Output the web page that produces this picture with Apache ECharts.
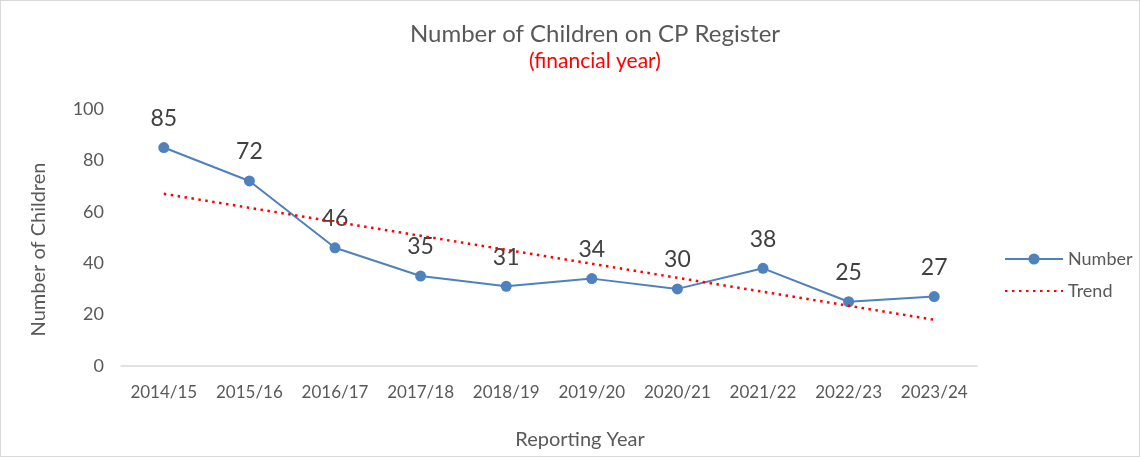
<!DOCTYPE html>
<html>
<head>
<meta charset="utf-8">
<title>CP Register</title>
<script src="https://cdn.jsdelivr.net/npm/echarts@6/dist/echarts.min.js"></script>
<style>
	body { margin: 0; }
	#main { width: 1138px; height: 455px; border: 1px solid #d9d9d9; }
</style>
<script type="text/javascript">
	// data
	var years = ['2014/15', '2015/16', '2016/17', '2017/18', '2018/19', '2019/20', '2020/21', '2021/22', '2022/23', '2023/24'];
	var numbers = [85, 72, 46, 35, 31, 34, 30, 38, 25, 27];
	// trend line: start and end values only, joined straight
	var trend = [67, null, null, null, null, null, null, null, null, 18];
	var yTicks = [0, 20, 40, 60, 80, 100];

	window.onload = function () {
		initChart();
	};

	function initChart() {
		var myChart = echarts.init(document.getElementById('main'));
		var font = 'Lato, "Noto Sans", sans-serif';
		var option = {
			textStyle: { fontFamily: font },
			title: {
				text: 'Number of Children on CP Register',
				subtext: '(financial year)',
				left: 589,
				textAlign: 'center',
				top: 16,
				itemGap: 5,
				textStyle: { fontSize: 24, fontWeight: 'normal', color: '#595959', fontFamily: font },
				subtextStyle: { fontSize: 21, color: '#ff0000', fontFamily: font }
			},
			legend: {
				orient: 'vertical',
				left: 998,
				top: 244,
				itemWidth: 58,
				itemHeight: 14,
				itemGap: 14,
				textStyle: { fontSize: 18, color: '#595959', fontFamily: font },
				data: ['Number', { name: 'Trend', itemStyle: { opacity: 0 } }]
			},
			grid: { left: 120, right: 162, top: 108, bottom: 90 },
			xAxis: {
				type: 'category',
				data: years,
				boundaryGap: true,
				name: 'Reporting Year',
				nameLocation: 'middle',
				nameGap: 64,
				nameTextStyle: { fontSize: 20, color: '#595959', padding: [0, 0, 0, 62] },
				axisLine: { lineStyle: { color: '#d9d9d9', width: 1.5 } },
				axisTick: { show: false },
				axisLabel: { fontSize: 17, color: '#595959', margin: 18, interval: 0 }
			},
			yAxis: {
				type: 'value',
				min: yTicks[0],
				max: yTicks[yTicks.length - 1],
				interval: 20,
				name: 'Number of Children',
				nameLocation: 'middle',
				nameGap: 72,
				nameTextStyle: { fontSize: 20, color: '#595959', padding: [0, 24, 0, 0] },
				splitLine: { show: false },
				axisLine: { show: false },
				axisTick: { show: false },
				axisLabel: { fontSize: 18, color: '#595959', margin: 17 }
			},
			series: [
				{
					name: 'Number',
					type: 'line',
					data: numbers,
					symbol: 'circle',
					symbolSize: 11,
					itemStyle: { color: '#4f81bd' },
					lineStyle: { color: '#4f81bd', width: 2 },
					label: {
						show: true,
						position: 'top',
						distance: 12,
						fontSize: 23,
						color: '#404040'
					},
					z: 3
				},
				{
					name: 'Trend',
					type: 'line',
					data: trend,
					connectNulls: true,
					symbol: 'none',
					itemStyle: { color: '#ff0000' },
					lineStyle: { color: '#ff0000', width: 2.5, type: [2.5, 4.5] },
					z: 4
				}
			]
		};
		myChart.setOption(option);
	}
</script>
</head>
<body>
<div id="main"></div>
</body>
</html>
